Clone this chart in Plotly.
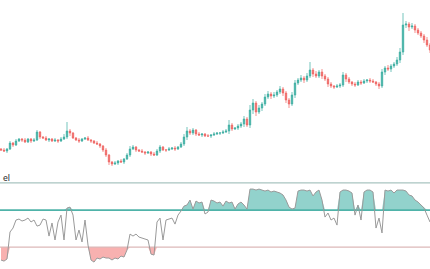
import plotly.graph_objects as go

# ---- price data (one candle per bar) ----
close = [50, 49, 51, 57, 55, 59, 61, 60, 58, 61,
         59, 60, 68, 63, 62, 60, 61, 59, 60, 59,
         61, 63, 69, 67, 62, 60, 59, 61, 62, 60,
         59, 57, 56, 54, 50, 45, 38, 36, 37, 39,
         38, 41, 45, 51, 53, 50, 49, 48, 47, 48,
         46, 45, 49, 53, 50, 50, 51, 52, 51, 53,
         56, 63, 69, 67, 70, 66, 65, 66, 64, 64,
         65, 66, 67, 67, 68, 69, 75, 71, 72, 74,
         76, 81, 75, 90, 97, 88, 92, 96, 103, 106,
         104, 105, 108, 111, 107, 100, 96, 105, 117, 120,
         122, 120, 124, 130, 126, 124, 128, 124, 121, 116,
         114, 113, 114, 115, 125, 121, 118, 116, 115, 118,
         117, 119, 120, 119, 118, 116, 114, 128, 132, 131,
         134, 136, 140, 148, 175, 176, 173, 174, 170, 167,
         164, 160, 155, 150]
first_open = 51
wick_up = [1, 2, 1, 2, 1, 2, 1, 1, 2, 1,
           1, 2, 2, 1, 1, 2, 1, 1, 2, 1,
           2, 3, 9, 2, 1, 1, 2, 1, 1, 2,
           1, 1, 2, 1, 1, 2, 1, 1, 2, 1,
           2, 1, 2, 3, 2, 1, 1, 2, 1, 1,
           1, 2, 2, 2, 1, 1, 2, 1, 2, 1,
           2, 3, 4, 2, 2, 1, 2, 1, 1, 2,
           1, 2, 1, 1, 2, 2, 5, 2, 1, 2,
           2, 3, 2, 5, 4, 2, 3, 2, 3, 3,
           2, 3, 2, 3, 2, 2, 2, 3, 3, 2,
           3, 2, 3, 8, 2, 3, 2, 3, 2, 2,
           2, 1, 2, 2, 3, 2, 2, 1, 2, 2,
           2, 2, 1, 2, 2, 1, 2, 3, 2, 3,
           2, 2, 3, 4, 12, 3, 2, 3, 2, 2,
           2, 2, 3, 2]
wick_dn = [1, 1, 2, 1, 2, 1, 1, 2, 1, 1,
           2, 1, 1, 2, 1, 1, 2, 1, 1, 2,
           1, 1, 2, 3, 1, 1, 2, 1, 1, 1,
           2, 1, 1, 2, 2, 2, 3, 2, 1, 2,
           1, 2, 1, 2, 1, 2, 1, 1, 2, 1,
           2, 1, 1, 2, 1, 2, 1, 1, 2, 1,
           1, 2, 3, 2, 2, 2, 1, 2, 1, 1,
           2, 1, 1, 2, 1, 1, 3, 2, 1, 2,
           2, 3, 2, 3, 4, 4, 2, 3, 2, 2,
           3, 2, 2, 2, 3, 3, 4, 2, 3, 2,
           2, 3, 2, 2, 3, 2, 2, 3, 2, 3,
           2, 2, 1, 2, 2, 3, 2, 2, 2, 1,
           2, 1, 2, 2, 1, 2, 3, 2, 3, 2,
           3, 2, 2, 3, 3, 3, 4, 2, 3, 2,
           2, 3, 2, 3]

# ---- oscillator ----
osc = [9.5, 8.6, 10.3, 32.2, 35.4, 41.9, 42.7, 41.1, 41.9, 43.5,
       40.3, 41.9, 37.0, 37.8, 42.7, 41.9, 28.9, 39.5, 25.7, 40.3,
       45.9, 25.7, 51.6, 52.4, 45.9, 25.7, 33.8, 24.1, 41.9, 21.6,
       9.5, 7.8, 11.1, 10.3, 11.9, 11.1, 11.1, 9.5, 11.1, 10.3,
       12.7, 11.9, 17.6, 30.5, 28.9, 30.5, 28.1, 27.3, 26.5, 25.7,
       14.3, 13.5, 40.3, 43.5, 25.7, 41.9, 42.7, 43.5, 38.6, 45.9,
       49.2, 53.2, 54.1, 58.1, 50.8, 57.3, 55.7, 56.5, 46.8, 48.4,
       58.1, 57.3, 55.7, 56.5, 53.2, 57.3, 55.7, 56.5, 50.8, 54.9,
       56.5, 54.1, 50.8, 67.0, 67.0, 66.2, 67.0, 66.2, 65.4, 66.2,
       64.6, 65.4, 64.6, 63.8, 62.2, 58.1, 52.4, 50.8, 51.6, 65.4,
       66.2, 66.2, 65.4, 66.2, 61.4, 64.6, 66.2, 58.1, 44.3, 47.6,
       41.9, 43.5, 37.8, 64.6, 66.2, 66.2, 65.4, 63.8, 45.9, 54.1,
       41.9, 64.6, 66.2, 66.2, 64.6, 35.4, 43.5, 31.4, 66.2, 65.4,
       66.2, 63.8, 66.2, 66.2, 66.2, 65.4, 62.2, 61.4, 58.1, 56.5,
       54.1, 51.6, 45.9, 40.3]
level_upper = 72
level_mid = 50
level_lower = 20
panel_label = "el"

n = len(close)
x = list(range(n))
opens = [first_open] + close[:-1]
highs = [max(o, c) + w for o, c, w in zip(opens, close, wick_up)]
lows = [min(o, c) - w for o, c, w in zip(opens, close, wick_dn)]

fig = go.Figure()
fig.add_trace(go.Candlestick(
    x=x, open=opens, high=highs, low=lows, close=close,
    increasing=dict(line=dict(color="#3aada1", width=0.7), fillcolor="#3aada1"),
    decreasing=dict(line=dict(color="#ef6461", width=0.7), fillcolor="#ef6461"),
    whiskerwidth=0, xaxis="x", yaxis="y", hoverinfo="skip", showlegend=False))

# fills for oscillator
fig.add_trace(go.Scatter(x=x, y=[level_mid] * n, mode="lines", line=dict(width=0),
                         xaxis="x2", yaxis="y2", showlegend=False, hoverinfo="skip"))
fig.add_trace(go.Scatter(x=x, y=[max(v, level_mid) for v in osc], mode="lines",
                         line=dict(width=0), fill="tonexty",
                         fillcolor="rgba(38,166,154,0.5)",
                         xaxis="x2", yaxis="y2", showlegend=False, hoverinfo="skip"))
fig.add_trace(go.Scatter(x=x, y=[level_lower] * n, mode="lines", line=dict(width=0),
                         xaxis="x2", yaxis="y2", showlegend=False, hoverinfo="skip"))
fig.add_trace(go.Scatter(x=x, y=[min(v, level_lower) for v in osc], mode="lines",
                         line=dict(width=0), fill="tonexty",
                         fillcolor="rgba(239,83,80,0.45)",
                         xaxis="x2", yaxis="y2", showlegend=False, hoverinfo="skip"))
# level lines
for lvl, col, w in [(level_upper, "#a9c4c0", 1.2), (level_lower, "#dcb8b8", 1.2),
                    (level_mid, "#4fb3a9", 1.8)]:
    fig.add_trace(go.Scatter(x=[-1, n], y=[lvl, lvl], mode="lines",
                             line=dict(color=col, width=w),
                             xaxis="x2", yaxis="y2", showlegend=False, hoverinfo="skip"))
fig.add_trace(go.Scatter(x=x, y=osc, mode="lines", line=dict(color="#9a9a9a", width=1),
                         xaxis="x2", yaxis="y2", showlegend=False, hoverinfo="skip"))

H = 269.0
xr = [-0.333, 143.0]
fig.update_layout(
    width=430, height=269, margin=dict(l=0, r=0, t=0, b=0),
    paper_bgcolor="white", plot_bgcolor="white",
    xaxis=dict(domain=[0, 1], range=xr, visible=False, rangeslider=dict(visible=False),
               anchor="y"),
    yaxis=dict(domain=[1 - 172 / H, 1], range=[28, 200], visible=False),
    xaxis2=dict(domain=[0, 1], range=xr, visible=False, anchor="y2", matches="x"),
    yaxis2=dict(domain=[0, 93 / H], range=[2.2, 77.6], visible=False),
    annotations=[dict(text=panel_label, xref="paper", yref="paper", x=0.5 / 430,
                      y=1 - 178 / H, xanchor="left", yanchor="middle", showarrow=False,
                      font=dict(family="Roboto", size=9, color="#333333"))],
)
fig.write_html("out.html")
